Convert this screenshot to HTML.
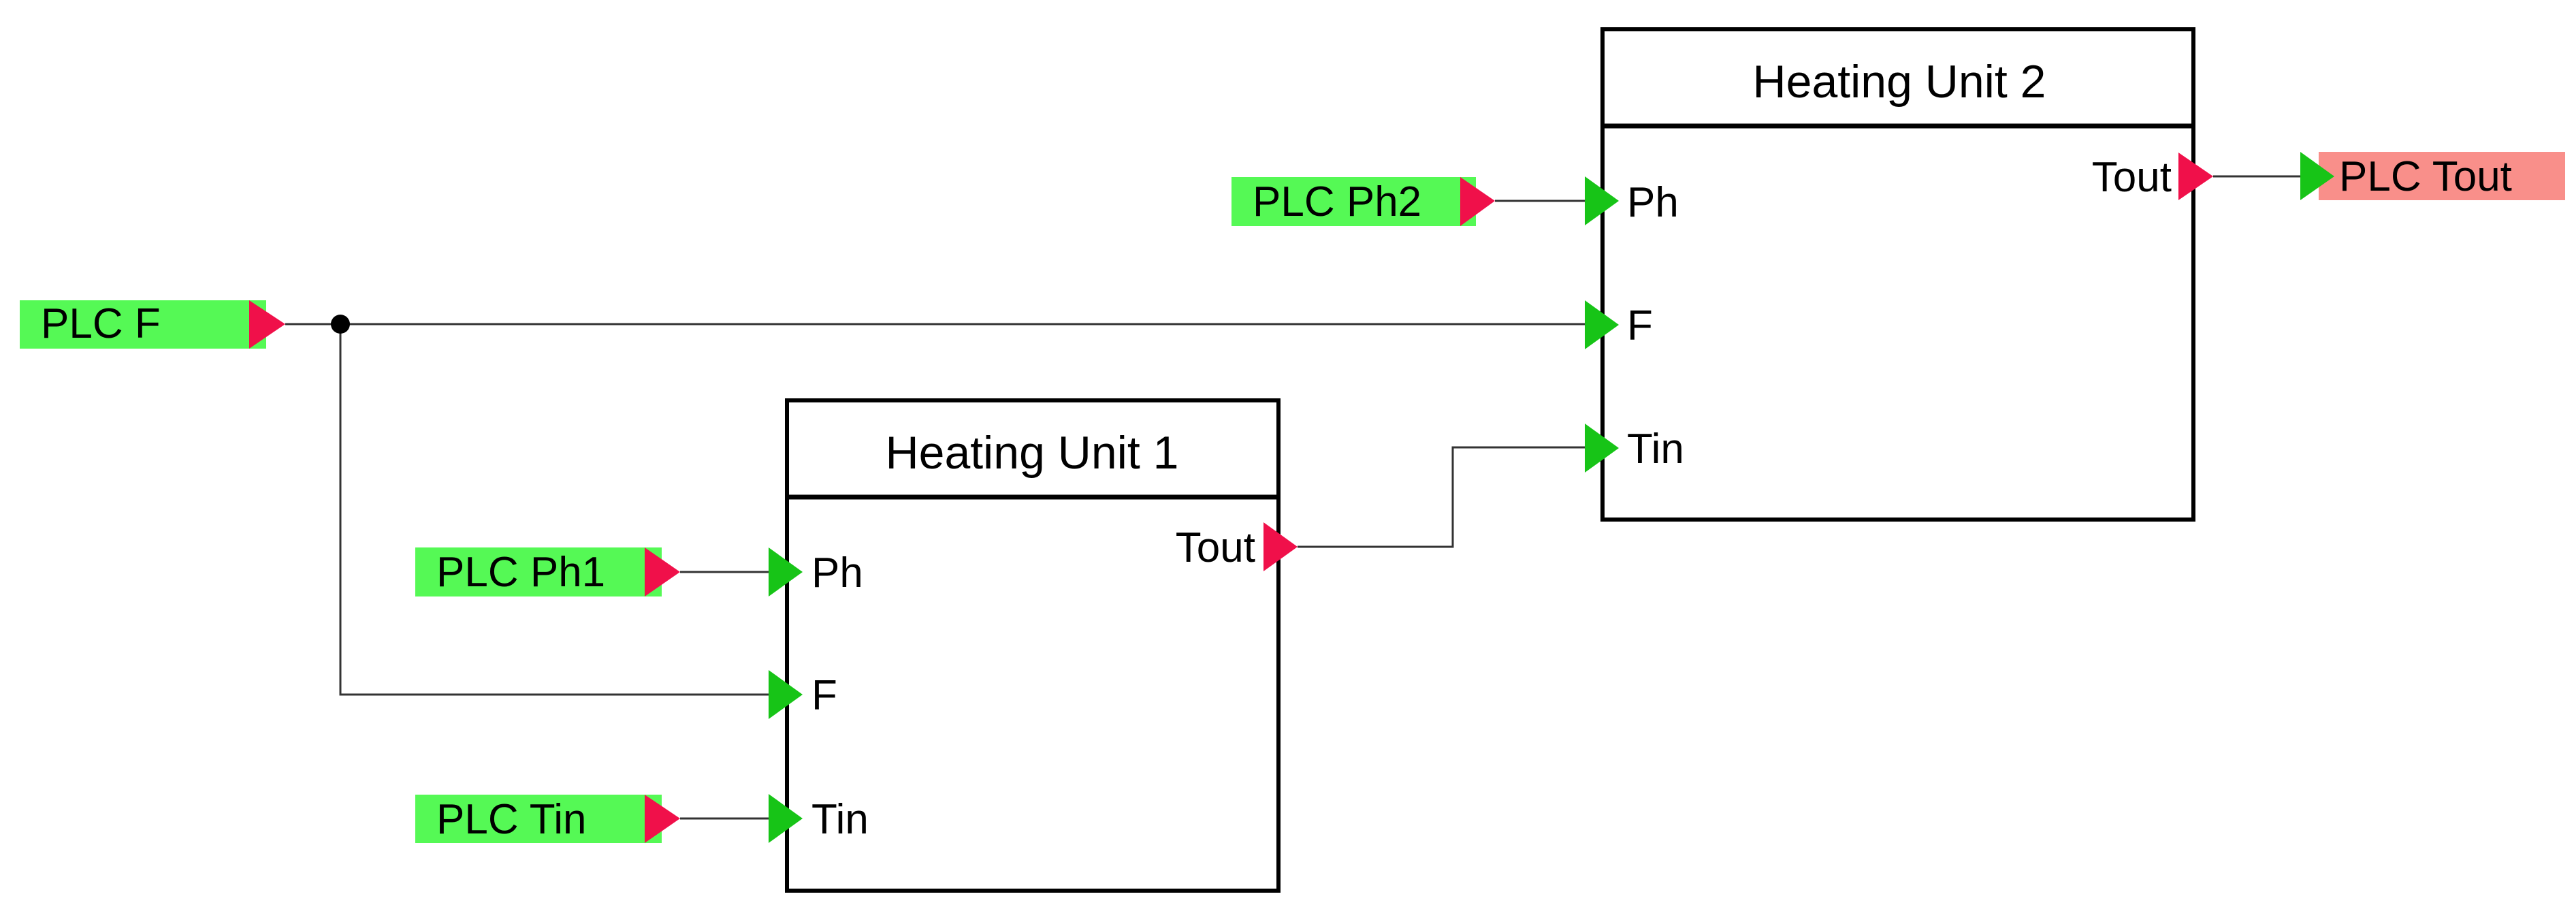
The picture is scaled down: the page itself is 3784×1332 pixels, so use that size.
<!DOCTYPE html>
<html><head><meta charset="utf-8"><style>
html,body{margin:0;padding:0;background:#fff;}
svg{display:block;}
text{font-family:"Liberation Sans",sans-serif;fill:#000;}
</style></head><body>
<svg width="3784" height="1332" viewBox="0 0 3784 1332" xmlns="http://www.w3.org/2000/svg">
<rect width="3784" height="1332" fill="#fff"/>
<!-- connectors -->
<g stroke="#333" stroke-width="3" fill="none">
<polyline points="419,476 2330,476"/>
<polyline points="500,476 500,1020 1130,1020"/>
<line x1="999" y1="840" x2="1130" y2="840"/>
<line x1="999" y1="1202" x2="1130" y2="1202"/>
<line x1="2196" y1="295" x2="2330" y2="295"/>
<polyline points="1906,803 2134,803 2134,657 2330,657"/>
<line x1="3251" y1="259" x2="3380" y2="259"/>
</g>
<circle cx="500" cy="476" r="14" fill="#000"/>
<!-- PLC labels -->
<rect x="29" y="441" width="362" height="71" fill="#55f955"/>
<polygon points="366,441 419,476 366,512" fill="#f0104a"/>
<text x="60" y="496" font-size="62">PLC F</text>
<rect x="610" y="804" width="362" height="72" fill="#55f955"/>
<polygon points="947,804 999,840 947,876" fill="#f0104a"/>
<text x="641" y="861" font-size="62">PLC Ph1</text>
<rect x="610" y="1167" width="362" height="71" fill="#55f955"/>
<polygon points="947,1167 999,1202 947,1238" fill="#f0104a"/>
<text x="641" y="1224" font-size="62">PLC Tin</text>
<rect x="1809" y="260" width="359" height="72" fill="#55f955"/>
<polygon points="2145,260 2196,295 2145,332" fill="#f0104a"/>
<text x="1840" y="317" font-size="62">PLC Ph2</text>
<rect x="3406" y="223" width="362" height="71" fill="#f98f8a"/>
<polygon points="3379,223 3429,259 3379,294" fill="#17c417"/>
<text x="3436" y="280" font-size="62">PLC Tout</text>
<!-- HU1 -->
<rect x="1156" y="588" width="722" height="720" fill="#fff" stroke="#000" stroke-width="6"/>
<line x1="1156" y1="730" x2="1878" y2="730" stroke="#000" stroke-width="7"/>
<text x="1516" y="688" font-size="68" text-anchor="middle">Heating Unit 1</text>
<polygon points="1129,804 1179,840 1129,876" fill="#17c417"/>
<polygon points="1129,984 1179,1020 1129,1056" fill="#17c417"/>
<polygon points="1129,1166 1179,1202 1129,1238" fill="#17c417"/>
<text x="1192" y="862" font-size="62">Ph</text>
<text x="1192" y="1042" font-size="62">F</text>
<text x="1192" y="1224" font-size="62">Tin</text>
<polygon points="1856,767 1906,803 1856,839" fill="#f0104a"/>
<text x="1844" y="825" font-size="62" text-anchor="end">Tout</text>
<!-- HU2 -->
<rect x="2354" y="43" width="868" height="720" fill="#fff" stroke="#000" stroke-width="6"/>
<line x1="2354" y1="185" x2="3222" y2="185" stroke="#000" stroke-width="7"/>
<text x="2790" y="143" font-size="68" text-anchor="middle">Heating Unit 2</text>
<polygon points="2328,259 2378,295 2328,331" fill="#17c417"/>
<polygon points="2328,441 2378,477 2328,513" fill="#17c417"/>
<polygon points="2328,622 2378,658 2328,694" fill="#17c417"/>
<text x="2390" y="318" font-size="62">Ph</text>
<text x="2390" y="499" font-size="62">F</text>
<text x="2390" y="680" font-size="62">Tin</text>
<polygon points="3200,224 3251,259 3200,294" fill="#f0104a"/>
<text x="3190" y="281" font-size="62" text-anchor="end">Tout</text>
</svg>
</body></html>
